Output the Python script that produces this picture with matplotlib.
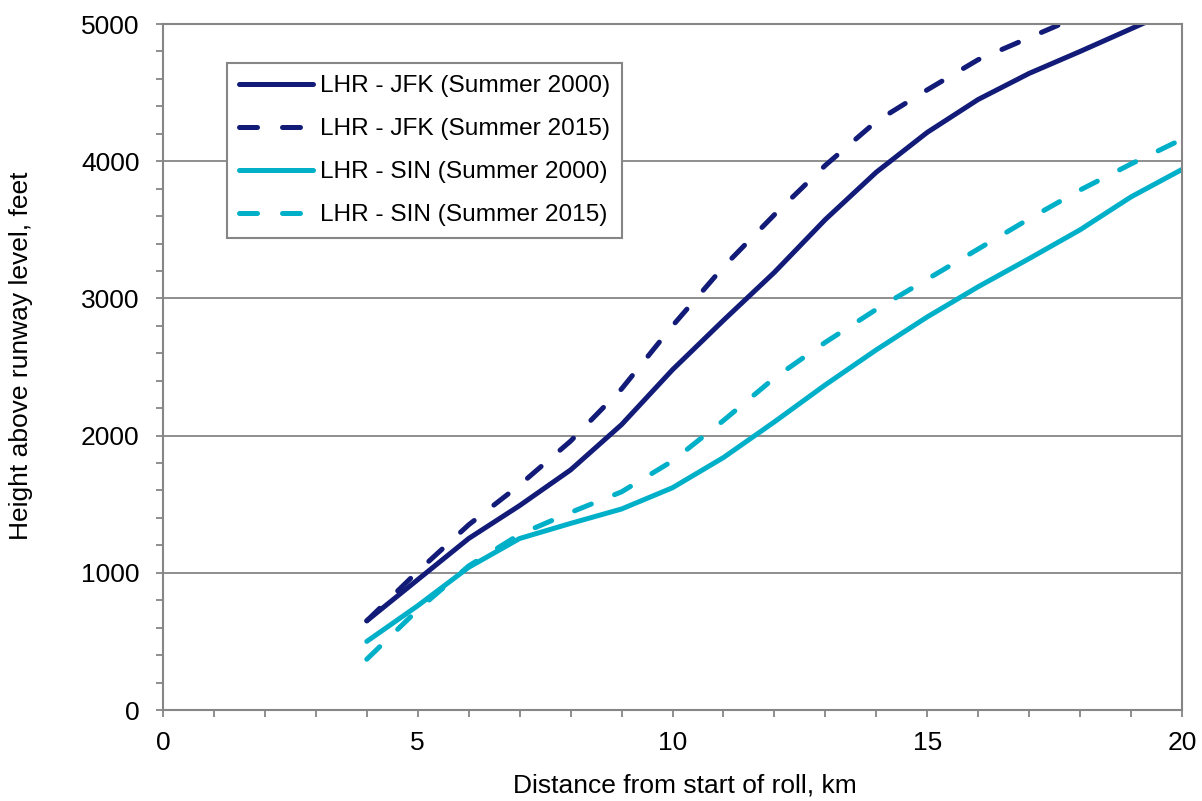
import numpy as np
import matplotlib
matplotlib.use('Agg')
import matplotlib.pyplot as plt
from matplotlib.ticker import MultipleLocator

plt.rcParams['font.family'] = ['Liberation Sans', 'DejaVu Sans']

# distance from start of roll, km
dist = [4, 5, 6, 7, 8, 9, 10, 11, 12, 13, 14, 15, 16, 17, 18, 19, 20]

# height above runway level, feet
jfk_2000 = [650, 950, 1250, 1490, 1750, 2080, 2480, 2840, 3190, 3575, 3920, 4210, 4450, 4640, 4800, 4965, 5130]
jfk_2015 = [650, 1010, 1350, 1640, 1960, 2340, 2800, 3230, 3610, 3970, 4290, 4520, 4740, 4900, 5060, 5200, 5330]
sin_2000 = [500, 760, 1040, 1250, 1360, 1465, 1620, 1840, 2100, 2370, 2625, 2865, 3085, 3290, 3500, 3740, 3940]
sin_2015 = [370, 730, 1050, 1280, 1440, 1590, 1815, 2110, 2420, 2680, 2920, 3140, 3360, 3580, 3790, 3980, 4160]

labels = ['LHR - JFK (Summer 2000)', 'LHR - JFK (Summer 2015)',
          'LHR - SIN (Summer 2000)', 'LHR - SIN (Summer 2015)']

navy = '#121C78'
cyan = '#00B0C8'
grey = '#868686'

fig = plt.figure(figsize=(12.02, 8.01), dpi=100)
ax = fig.add_axes([163/1202, 91/801, 1019/1202, 686/801])

lw = 3.6
dash = (3.6, 5.0)
ax.plot(dist, jfk_2000, color=navy, lw=lw, solid_capstyle='round', label=labels[0])
l2, = ax.plot(dist, jfk_2015, color=navy, lw=lw, dash_capstyle='round', label=labels[1])
l2.set_dashes(dash)
ax.plot(dist, sin_2000, color=cyan, lw=lw, solid_capstyle='round', label=labels[2])
l4, = ax.plot(dist, sin_2015, color=cyan, lw=lw, dash_capstyle='round', label=labels[3])
l4.set_dashes(dash)

ax.set_xlim(0, 20)
ax.set_ylim(0, 5000)
ax.xaxis.set_major_locator(MultipleLocator(5))
ax.xaxis.set_minor_locator(MultipleLocator(1))
ax.yaxis.set_major_locator(MultipleLocator(1000))
ax.yaxis.set_minor_locator(MultipleLocator(200))

ax.grid(axis='y', which='major', color=grey, lw=1.3)
ax.set_axisbelow(True)
for s in ax.spines.values():
    s.set_color(grey)
    s.set_linewidth(1.5)

ax.tick_params(which='both', direction='out', color=grey, width=1.3, length=5,
               labelsize=19, top=False, right=False)
ax.tick_params(axis='x', which='major', pad=10)
ax.tick_params(axis='y', which='major', pad=12)

ax.set_xlabel('Distance from start of roll, km', fontsize=19)
ax.set_ylabel('Height above runway level, feet', fontsize=19)
ax.xaxis.set_label_coords(0.512, -0.092)
ax.yaxis.set_label_coords(-0.1276, 0.516)

leg = ax.legend(loc='upper left', bbox_to_anchor=(0.0628, 0.943), borderaxespad=0,
                fontsize=17.6, handlelength=3.0, handletextpad=0.3, labelspacing=0.85,
                borderpad=0.5, fancybox=False, framealpha=1, edgecolor=grey)
leg.get_frame().set_linewidth(1.5)

fig.savefig('out.png', dpi=100)
